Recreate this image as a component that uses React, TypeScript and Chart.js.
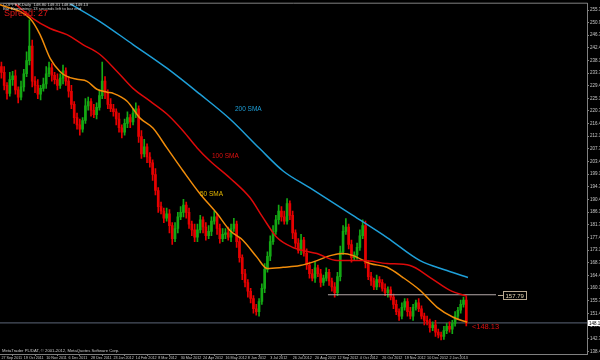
import { useEffect, useRef } from 'react';
import { Chart, registerables } from 'chart.js';

Chart.register(...registerables);

// ---------- data ----------
const xLabels = [
  '27 Sep 2011', '19 Oct 2011', '10 Nov 2011', '6 Dec 2011', '28 Dec 2011',
  '23 Jan 2012', '14 Feb 2012', '8 Mar 2012', '30 Mar 2012', '24 Apr 2012',
  '16 May 2012', '8 Jun 2012', '3 Jul 2012', '26 Jul 2012', '20 Aug 2012',
  '12 Sep 2012', '4 Oct 2012', '26 Oct 2012', '19 Nov 2012', '10 Dec 2012',
  '2 Jan 2013',
];
const barsPerLabel = 8;

const yTickValues = [
  255.3, 250.95, 246.75, 242.4, 238.1, 233.75, 229.4, 225.1, 220.75, 216.4,
  212.1, 207.75, 203.4, 199.1, 194.75, 190.4, 186.1, 181.75, 177.4, 173.1,
  168.75, 164.4, 160.1, 155.75, 151.4, 147.1, 142.75, 138.4,
];

const firstOpen = 236.0;
const closes = [
  234.0, 229.5, 226.8, 231.5, 232.8, 228.0, 225.5, 229.0, 233.5, 238.0,
  243.0, 231.0, 229.5, 226.5, 228.5, 230.0, 233.5, 235.5, 233.0, 231.5,
  229.5, 232.0, 234.5, 231.0, 227.5, 223.0, 218.5, 216.0, 214.5, 217.5,
  222.5, 224.0, 221.0, 219.5, 222.0, 226.0, 231.0, 227.0, 223.0, 221.5,
  220.5, 218.0, 215.0, 213.5, 216.5, 218.5, 217.0, 220.0, 221.5, 212.0,
  206.0, 208.5, 205.0, 203.0, 199.0, 193.5, 188.0, 186.5, 184.0, 185.5,
  181.5, 177.0, 180.5, 184.5, 186.0, 188.5, 186.0, 182.0, 180.0, 177.5,
  180.0, 183.5, 181.0, 178.0, 179.5, 183.0, 184.5, 180.5, 177.0, 178.5,
  179.0, 177.5, 180.5, 182.0, 176.0, 170.5, 165.0, 162.0, 159.0, 156.5,
  153.0, 152.0, 155.5, 160.0, 166.5, 171.0, 176.0, 179.5, 183.5, 186.5,
  184.5, 183.0, 189.0, 185.0, 179.0, 175.5, 173.0, 176.5, 172.0, 168.0,
  165.0, 163.5, 167.0, 165.0, 162.0, 163.5, 165.5, 162.5, 160.5, 158.5,
  164.0, 172.5, 179.5, 181.0, 175.0, 170.5, 171.5, 174.0, 178.0, 181.5,
  168.5, 164.0, 162.5, 160.5, 163.0, 162.0, 160.0, 158.5, 159.5, 157.0,
  154.5, 152.0, 150.5, 153.5, 155.5, 152.0, 150.5, 153.5, 155.0, 153.0,
  150.5, 149.0, 148.5, 146.5, 147.5, 145.0, 144.0, 143.5, 145.5, 147.0,
  146.0, 148.0, 150.5, 152.5, 154.5, 156.0, 148.13,
];
const wickUp = [
  1.5, 2, 1, 2.5, 1.5, 2, 1, 2, 1.5, 3,
  9, 2, 1.5, 2, 1, 2, 2.5, 2, 1.5, 1,
  2, 1.5, 2, 1, 1.5, 2, 1, 1.5, 2, 1,
  2.5, 1.5, 1, 2, 1.5, 2, 6.5, 1.5, 1, 2,
  1.5, 1, 2, 1, 1.5, 2, 1, 1.5, 2, 1,
  2, 2.5, 1, 1.5, 1, 2, 1, 1.5, 1, 2,
  1.5, 1, 2, 1.5, 2, 2, 1, 1.5, 1, 2,
  2, 1.5, 1, 1.5, 2, 1.5, 2, 1, 1.5, 2,
  1.5, 2, 1.5, 2, 1, 1.5, 1, 1.5, 1, 1,
  1, 1.5, 1, 1.5, 2, 1.5, 2, 2, 1.5, 2,
  1.5, 2, 1.7, 1, 1.5, 1, 1.5, 2, 1, 1.5,
  1, 1.5, 2, 1, 1.5, 1, 1.5, 1, 1, 1.5,
  1.5, 2, 2, 2.9, 1, 1.5, 1, 1.5, 2, 2,
  1.5, 1, 1.5, 1, 1.5, 1, 1, 1.5, 1, 1,
  1, 1.5, 1, 1.5, 1, 1, 1.5, 1, 1, 1.5,
  1, 1, 1.5, 1, 1, 1.5, 1, 1, 1.5, 1,
  1.5, 1, 1.5, 1, 1.5, 1, 1,
];
const wickDown = [
  2, 1.5, 2, 1, 2, 1.5, 2, 1, 1.5, 1,
  1.5, 2, 2.5, 1.5, 2, 1, 1.5, 1, 2, 1.5,
  1.5, 1, 2, 1.5, 2, 1.5, 2, 1.5, 2, 1,
  1, 1.5, 2, 1, 1.5, 1, 1, 2, 1.5, 1,
  1.5, 2, 1.5, 2, 1, 1.5, 2, 1, 1.5, 2,
  1.5, 1, 2, 1.5, 2, 1.5, 2, 1, 1.5, 1,
  2.5, 2, 1, 1.5, 1, 1.5, 2, 1.5, 2, 1.5,
  1.5, 1, 2, 1.5, 1, 1.5, 1, 2, 1.5, 1,
  1.5, 1, 1.5, 1, 2, 1.5, 2, 1.5, 2, 1.5,
  1.5, 1.2, 1.5, 1, 1.5, 1, 1.5, 1, 1, 1.5,
  1.5, 1, 1, 1.5, 2, 1.5, 1, 1.5, 1, 1.5,
  1.5, 1, 1.5, 1, 1.5, 1, 1, 1.5, 1.5, 1.5,
  1, 1.5, 1, 1, 1.5, 1.5, 1, 1.5, 1, 1,
  1.5, 1, 1.5, 1, 1, 1.5, 1, 1, 1.5, 1,
  1.5, 1, 1.5, 1, 1, 1.5, 1, 1.5, 1, 1,
  1, 1.5, 1, 1.5, 1, 1.5, 1, 1.2, 1, 1,
  1, 1.5, 1, 1, 1, 1, 1,
];

// moving averages: [bar index, price]
const sma200: [number, number][] = [
  [13.8, 263.7], [24.5, 257.5], [35.2, 251.4], [47.0, 243.5], [59.1, 235.4],
  [70.9, 226.5], [81.6, 218.0], [92.4, 207.7], [100.6, 200.2], [110.2, 194.4],
  [124.5, 185.6], [137.7, 177.4], [149.5, 169.5], [159.1, 166.1], [166.6, 163.7],
];
const sma100: [number, number][] = [
  [-0.5, 262.2], [11.3, 252.4], [17.4, 249.0], [23.4, 246.9], [29.1, 243.5],
  [35.2, 240.1], [41.3, 234.3], [47.0, 228.5], [53.1, 224.1], [59.1, 219.7],
  [64.9, 213.9], [69.9, 208.1], [74.5, 203.6], [81.6, 197.8], [88.8, 191.0],
  [93.4, 184.2], [98.4, 177.4], [104.1, 174.0], [112.7, 171.9], [119.9, 169.5],
  [129.1, 169.5], [137.7, 168.5], [145.9, 167.8], [153.1, 163.7], [160.2, 159.3],
  [166.3, 157.3],
];
const sma50: [number, number][] = [
  [-0.5, 257.2], [10.2, 252.4], [13.8, 246.9], [17.4, 238.8], [20.9, 234.3],
  [23.4, 232.6], [27.0, 231.6], [30.6, 230.9], [34.1, 228.2], [37.7, 227.2],
  [39.9, 226.8], [44.9, 224.1], [49.5, 218.3], [54.1, 214.9], [59.1, 208.1],
  [64.9, 200.2], [70.9, 192.4], [77.0, 185.6], [81.6, 179.8], [86.3, 176.4],
  [91.3, 170.6], [94.9, 166.8], [100.6, 167.2], [106.6, 167.8], [112.7, 169.5],
  [117.4, 171.2], [122.0, 171.9], [125.6, 171.2], [131.6, 168.5], [137.7, 167.2],
  [143.4, 163.7], [149.5, 159.3], [155.6, 153.5], [161.3, 150.1], [166.3, 148.4],
];

const smaTexts = [
  { text: '200 SMA', x: 83.4, y: 221.4, color: '#1E9FD8' },
  { text: '100 SMA', x: 75.2, y: 205.3, color: '#E01010' },
  { text: '50 SMA', x: 70.9, y: 192.4, color: '#E6B800' },
];

const resistanceLevel = 157.79;
const resistanceFrom = 116.6;
const resistanceTo = 176.6;
const bidPrice = 148.13;

const headerLine1 = 'COPPER,Daily  148.80 149.31 148.80 149.13';
const headerLine2 = 'Bar Remaining: 13 seconds left to bar end';
const spreadText = 'Spread: 27';
const copyrightText = 'MetaTrader PL/DAT, \u00A9 2001-2012, MetaQuotes Software Corp.';

const Y_MIN = 137.5;
const Y_MAX = 257.5;
const X_MIN = -0.5;
const X_MAX = 209.1;

const UP = '#14A814';
const DOWN = '#E60000';

const overlay = {
  id: 'mtOverlay',
  afterDatasetsDraw(chart: any) {
    const { ctx } = chart;
    const xs = chart.scales.x;
    const ys = chart.scales.y;
    ctx.save();
    ctx.textBaseline = 'middle';
    ctx.textAlign = 'left';
    ctx.font = '6.5px "Liberation Sans", Arial, sans-serif';
    for (const t of smaTexts) {
      ctx.fillStyle = t.color;
      ctx.fillText(t.text, xs.getPixelForValue(t.x), ys.getPixelForValue(t.y));
    }
    // resistance label box
    const ry = Math.round(ys.getPixelForValue(resistanceLevel)) + 0.5;
    const rx = xs.getPixelForValue(resistanceTo);
    ctx.strokeStyle = '#B8A890';
    ctx.lineWidth = 1;
    ctx.beginPath();
    ctx.moveTo(rx + 2, ry);
    ctx.lineTo(rx + 7, ry);
    ctx.stroke();
    ctx.font = '6px "Liberation Sans", Arial, sans-serif';
    const lab = resistanceLevel.toFixed(2);
    const w = Math.ceil(ctx.measureText(lab).width) + 4;
    const bx = Math.round(rx + 7) + 0.5;
    ctx.fillStyle = '#000';
    ctx.fillRect(bx, ry - 4, w, 8);
    ctx.strokeRect(bx, ry - 4, w, 8);
    ctx.fillStyle = '#E6D6B4';
    ctx.fillText(lab, bx + 2, ry + 0.5);
    // red price text next to last bar
    const by = ys.getPixelForValue(bidPrice);
    ctx.font = '7.5px "Liberation Sans", Arial, sans-serif';
    ctx.fillStyle = '#E01010';
    ctx.fillText('<' + bidPrice.toFixed(2), xs.getPixelForValue(closes.length + 1), by + 3.5);
    ctx.restore();
  },
  afterDraw(chart: any) {
    const { ctx, chartArea } = chart;
    const ys = chart.scales.y;
    ctx.save();
    // frame top
    ctx.strokeStyle = '#808080';
    ctx.lineWidth = 1;
    ctx.beginPath();
    ctx.moveTo(0, chartArea.top - 0.5);
    ctx.lineTo(chartArea.right + 0.5, chartArea.top - 0.5);
    ctx.stroke();
    // header texts
    ctx.textAlign = 'left';
    ctx.textBaseline = 'middle';
    ctx.fillStyle = '#D0D0D0';
    ctx.font = '4.2px "Liberation Sans", Arial, sans-serif';
    ctx.fillText(headerLine1, 3, 5);
    ctx.fillText(headerLine2, 3, 9);
    ctx.fillStyle = '#E01818';
    ctx.font = '9px "Liberation Sans", Arial, sans-serif';
    ctx.fillText(spreadText, 4, 14);
    ctx.fillStyle = '#C8C8C8';
    ctx.font = '4.2px "Liberation Sans", Arial, sans-serif';
    ctx.fillText(copyrightText, 2, 351);
    // bid box on the price axis
    const by = Math.round(ys.getPixelForValue(bidPrice));
    ctx.fillStyle = '#FFFFFF';
    ctx.fillRect(chartArea.right + 1, by - 3, 13, 6);
    ctx.fillStyle = '#000';
    ctx.font = '4.5px "Liberation Sans", Arial, sans-serif';
    ctx.fillText(bidPrice.toFixed(2), chartArea.right + 2, by + 0.3);
    ctx.restore();
  },
};

export default function App() {
  const ref = useRef<HTMLCanvasElement>(null);

  useEffect(() => {
    if (!ref.current) return;
    const opens = closes.map((c, i) => (i === 0 ? firstOpen : closes[i - 1]));
    const highs = closes.map((c, i) => Math.max(opens[i], c) + wickUp[i]);
    const lows = closes.map((c, i) => Math.min(opens[i], c) - wickDown[i]);
    const colors = closes.map((c, i) => (c >= opens[i] ? UP : DOWN));

    const wickData = closes.map((_, i) => ({ x: i, y: [lows[i], highs[i]] }));
    const bodyData = closes.map((c, i) => ({ x: i, y: [opens[i], c] }));

    const lineDs = (data: [number, number][], color: string) => ({
      type: 'line' as const,
      data: data.map(([x, y]) => ({ x, y })),
      borderColor: color,
      borderWidth: 1.5,
      pointRadius: 0,
      cubicInterpolationMode: 'monotone' as const,
      order: 0,
    });

    const chart = new Chart(ref.current, {
      type: 'bar',
      data: {
        datasets: [
          lineDs(sma200, '#1E9FD8'),
          lineDs(sma100, '#DC0A0A'),
          lineDs(sma50, '#F08C0A'),
          {
            type: 'line',
            data: [{ x: resistanceFrom, y: resistanceLevel }, { x: resistanceTo, y: resistanceLevel }],
            borderColor: '#B4A8A8',
            borderWidth: 1.2,
            pointRadius: 0,
            order: 0,
          } as any,
          {
            type: 'line',
            data: [{ x: X_MIN, y: bidPrice }, { x: X_MAX, y: bidPrice }],
            borderColor: '#4A5260',
            borderWidth: 1.2,
            pointRadius: 0,
            order: 4,
          } as any,
          {
            type: 'bar',
            data: bodyData as any,
            backgroundColor: colors,
            barThickness: 2,
            minBarLength: 1,
            grouped: false,
            order: 1,
          } as any,
          {
            type: 'bar',
            data: wickData as any,
            backgroundColor: colors,
            barThickness: 1,
            grouped: false,
            order: 2,
          } as any,
        ],
      },
      options: {
        animation: false,
        responsive: false,
        devicePixelRatio: 1,
        layout: { padding: { top: 2, left: 0, right: 0, bottom: 0 } },
        plugins: { legend: { display: false }, tooltip: { enabled: false } },
        scales: {
          x: {
            type: 'linear',
            min: X_MIN,
            max: X_MAX,
            offset: false,
            afterFit: (s: any) => { s.height = 6; },
            afterBuildTicks: (s: any) => {
              s.ticks = xLabels.map((_, k) => ({ value: k * barsPerLabel }));
            },
            ticks: {
              autoSkip: false,
              maxRotation: 0,
              minRotation: 0,
              align: 'start',
              padding: 0,
              color: '#C8C8C8',
              font: { family: '"Liberation Sans", Arial, sans-serif', size: 3.7 },
              callback: (v: any) => xLabels[Math.round(Number(v) / barsPerLabel)] ?? '',
            },
            grid: { display: true, drawOnChartArea: false, drawTicks: true, tickLength: 2, color: '#808080' },
            border: { display: true, color: '#808080' },
          },
          y: {
            type: 'linear',
            position: 'right',
            min: Y_MIN,
            max: Y_MAX,
            afterFit: (s: any) => { s.width = 13; },
            afterBuildTicks: (s: any) => {
              s.ticks = yTickValues.map((v) => ({ value: v }));
            },
            ticks: {
              padding: 1,
              color: '#C8C8C8',
              font: { family: '"Liberation Sans", Arial, sans-serif', size: 4.5 },
              callback: (v: any) => Number(v).toFixed(2),
            },
            grid: { display: true, drawOnChartArea: false, drawTicks: true, tickLength: 2, color: '#808080' },
            border: { display: true, color: '#808080' },
          },
        },
      },
      plugins: [overlay],
    } as any);

    return () => chart.destroy();
  }, []);

  return (
    <div style={{ position: 'fixed', left: 0, top: 0, width: 600, height: 360, background: '#000' }}>
      <canvas ref={ref} width={600} height={360} style={{ display: 'block' }} />
    </div>
  );
}
